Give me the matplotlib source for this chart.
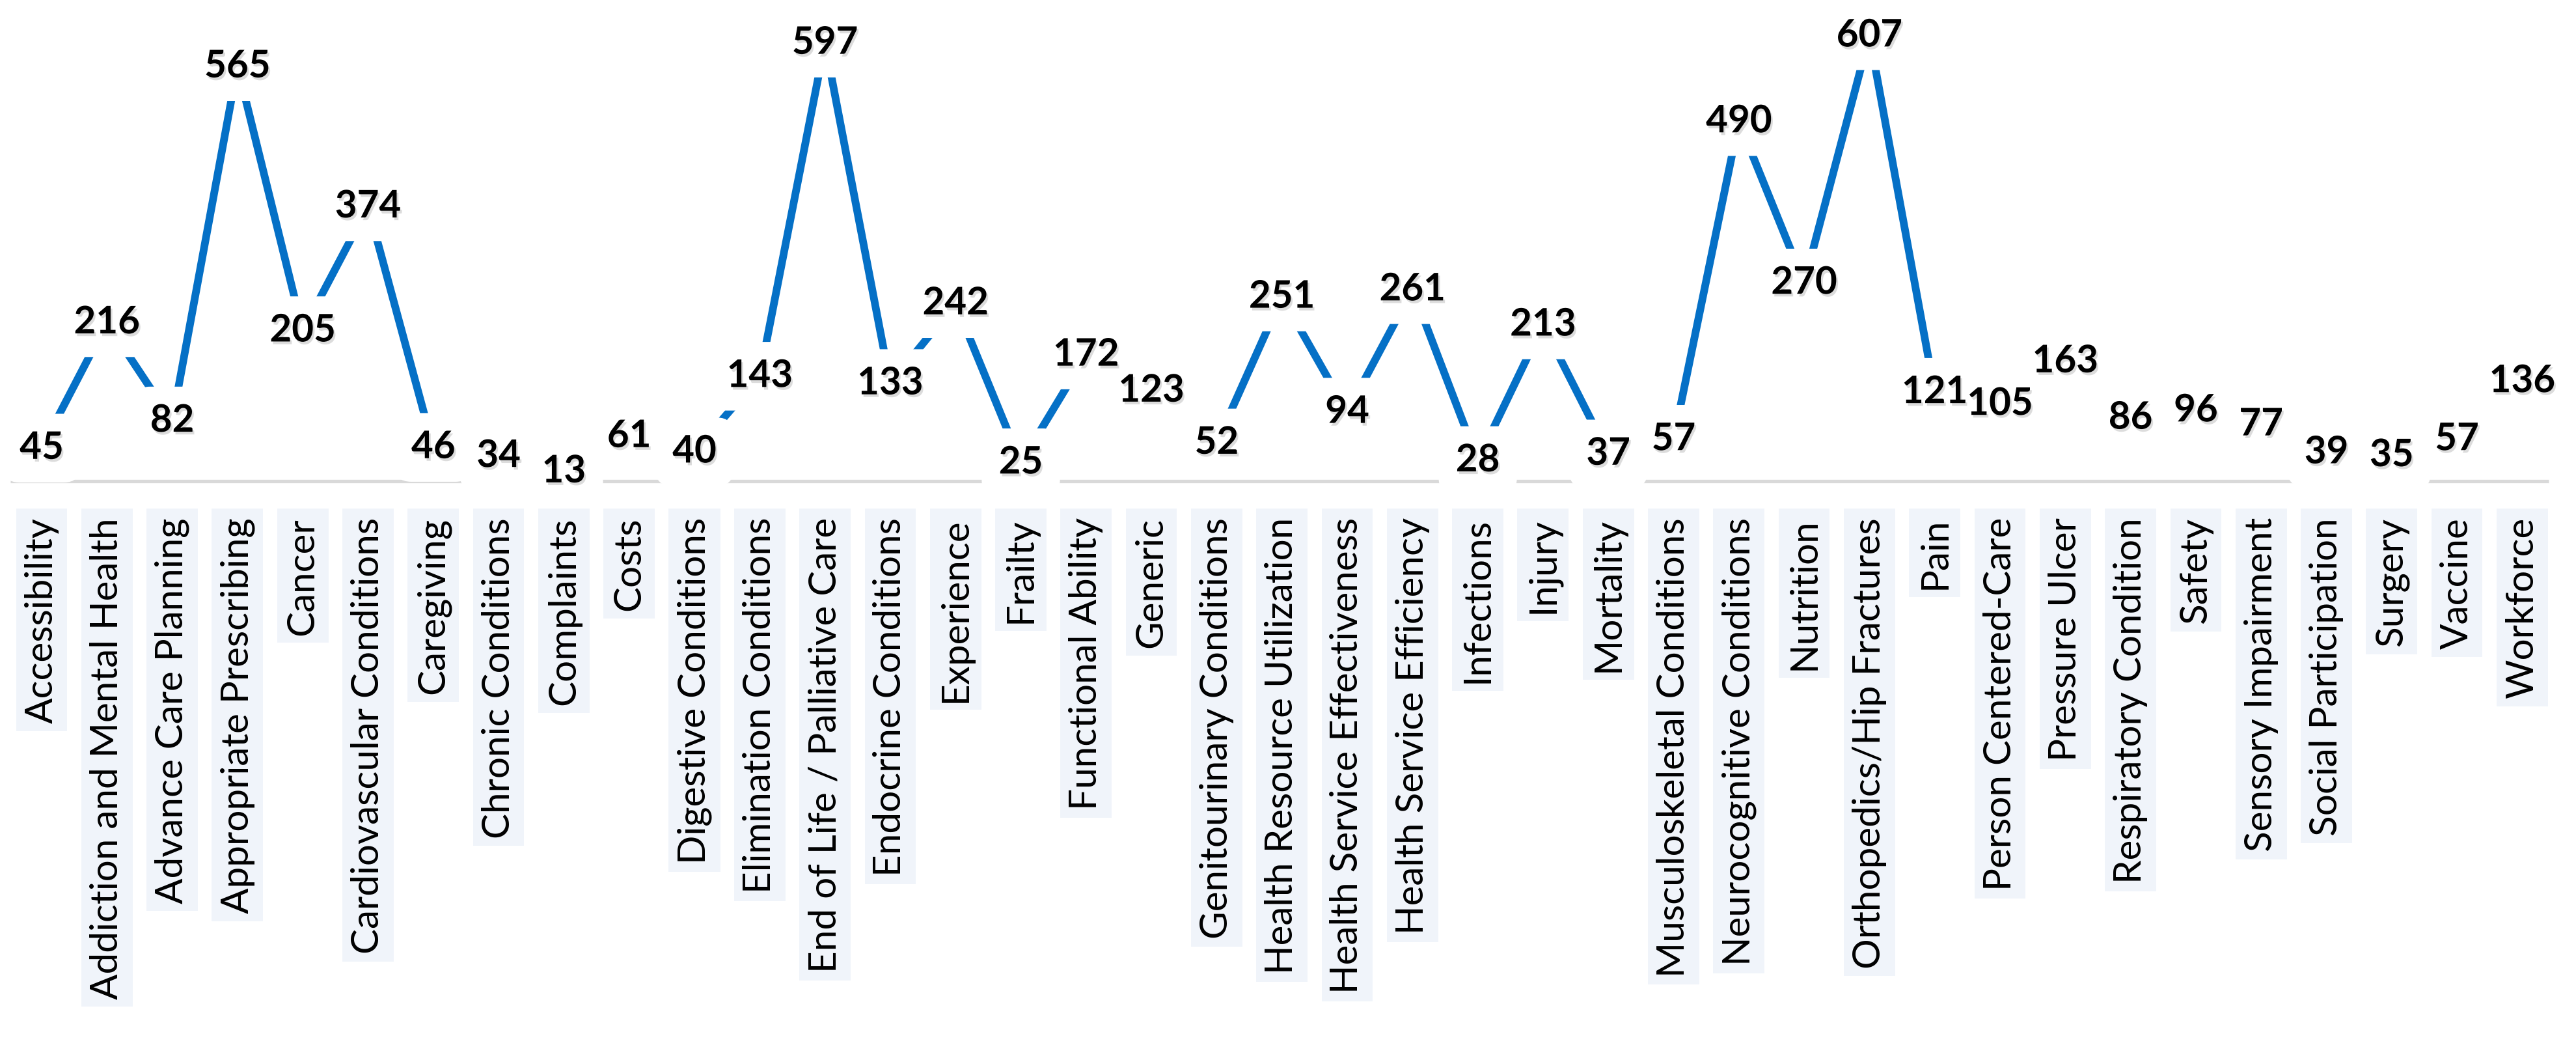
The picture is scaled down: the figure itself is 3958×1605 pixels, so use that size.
import matplotlib
matplotlib.use("Agg")
import matplotlib.pyplot as plt
import matplotlib.patheffects as pe
from matplotlib.transforms import blended_transform_factory

categorias = [
    "Accessibility", "Addiction and Mental Health", "Advance Care Planning",
    "Appropriate Prescribing", "Cancer", "Cardiovascular Conditions", "Caregiving",
    "Chronic Conditions", "Complaints", "Costs", "Digestive Conditions",
    "Elimination Conditions", "End of Life / Palliative Care", "Endocrine Conditions",
    "Experience", "Frailty", "Functional Ability", "Generic",
    "Genitourinary Conditions", "Health Resource Utilization",
    "Health Service Effectiveness", "Health Service Efficiency", "Infections",
    "Injury", "Mortality", "Musculoskeletal Conditions", "Neurocognitive Conditions",
    "Nutrition", "Orthopedics/Hip Fractures", "Pain", "Person Centered-Care",
    "Pressure Ulcer", "Respiratory Condition", "Safety", "Sensory Impairment",
    "Social Participation", "Surgery", "Vaccine", "Workforce",
]
valores = [45, 216, 82, 565, 205, 374, 46, 34, 13, 61, 40, 143, 597, 133, 242, 25,
           172, 123, 52, 251, 94, 261, 28, 213, 37, 57, 490, 270, 607, 121, 105,
           163, 86, 96, 77, 39, 35, 57, 136]

W, H = 3958, 1606
fig = plt.figure(figsize=(W / 100, H / 100), dpi=100)

# eixo: linha base em y=740 px (a partir do topo), passo de ~100 px por categoria
base_px = 740
esq_px = 13.85
larg_px = 39 * 100.3
ax = fig.add_axes([esq_px / W, (H - base_px) / H, larg_px / W, base_px / H])
ax.set_xlim(-0.5, len(categorias) - 0.5)
ax.set_ylim(0, base_px / 1.127)
ax.axis("off")

x = list(range(len(categorias)))

# linha de base cinza
ax.plot([-0.48, 38.4], [0, 0], color="#d9d9d9", lw=3.8, solid_capstyle="butt",
        zorder=1, clip_on=False)

# serie
ax.plot(x, valores, color="#0570c6", lw=8.5, solid_capstyle="butt", zorder=2,
        clip_on=False)

fonte = ["Lato", "DejaVu Sans"]

# caixas brancas dos rotulos (primeiro todas, depois os textos)
for xi, v in zip(x, valores):
    ax.text(xi, v, str(v), ha="center", va="center", fontsize=42, fontweight="bold",
            family=fonte, color="white", zorder=3, clip_on=False,
            bbox=dict(boxstyle="round,pad=0.45", fc="white", ec="none"))

sombra = [pe.withSimplePatchShadow(offset=(2, -3), shadow_rgbFace="#777777", alpha=0.25)]
for xi, v in zip(x, valores):
    ax.text(xi, v, str(v), ha="center", va="center", fontsize=42, fontweight="bold",
            family=fonte, color="black", zorder=4, clip_on=False, path_effects=sombra)

# rotulos das categorias (verticais, com fundo azulado)
trans = blended_transform_factory(ax.transData, fig.transFigure)
topo_rot = 782 + 13
for xi, nome in zip(x, categorias):
    ax.text(xi, 1 - topo_rot / H, nome, rotation=90, ha="center", va="top",
            fontsize=42, family=fonte, color="black", transform=trans,
            zorder=3, clip_on=False,
            bbox=dict(boxstyle="square,pad=0.22", fc="#f0f4fa", ec="none"))

fig.savefig("out.png", dpi=100)
